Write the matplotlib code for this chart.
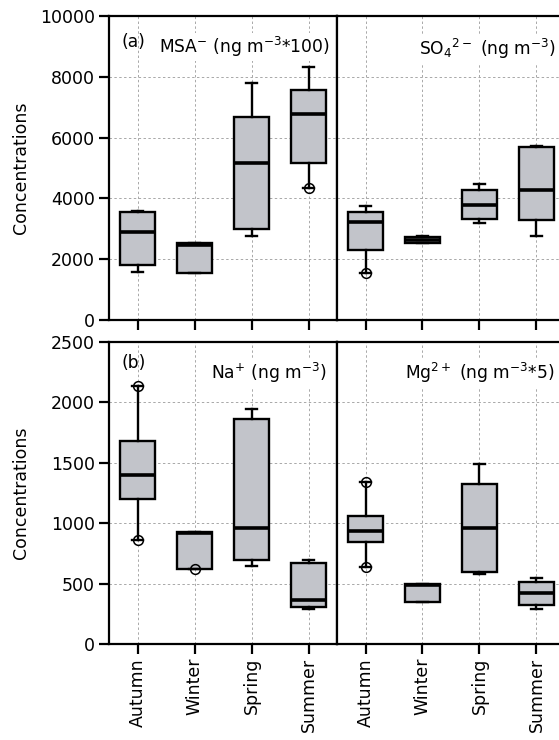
import matplotlib
matplotlib.use('Agg')
import matplotlib.pyplot as plt

seasons = ['Autumn', 'Winter', 'Spring', 'Summer']

# (a) MSA- (ng m-3 * 100)
msa_whislo = [1580, 1540, 2750, 4330]
msa_q1 = [1800, 1560, 2990, 5150]
msa_med = [2890, 2470, 5180, 6770]
msa_q3 = [3550, 2520, 6670, 7560]
msa_whishi = [3600, 2530, 7800, 8310]
msa_fliers = [[], [], [], [4330]]

# SO4 2- (ng m-3)
so4_whislo = [1560, 2540, 3190, 2770]
so4_q1 = [2300, 2540, 3320, 3280]
so4_med = [3230, 2630, 3780, 4270]
so4_q3 = [3540, 2720, 4270, 5680]
so4_whishi = [3740, 2750, 4490, 5710]
so4_fliers = [[1560], [], [], []]

# (b) Na+ (ng m-3)
na_whislo = [863, 623, 642, 292]
na_q1 = [1202, 623, 697, 303]
na_med = [1400, 915, 962, 367]
na_q3 = [1681, 929, 1866, 670]
na_whishi = [2136, 929, 1943, 697]
na_fliers = [[2136, 863], [623], [], []]

# Mg2+ (ng m-3 * 5)
mg_whislo = [640, 345, 579, 287]
mg_q1 = [846, 345, 595, 322]
mg_med = [937, 491, 962, 422]
mg_q3 = [1058, 499, 1326, 513]
mg_whishi = [1340, 499, 1491, 549]
mg_fliers = [[1340, 640], [], [], []]

W, H = 559, 740
fig = plt.figure(figsize=(W / 100, H / 100), dpi=100)

def px(x0, y_top, x1, y_bot):
    return [x0 / W, 1 - y_bot / H, (x1 - x0) / W, (y_bot - y_top) / H]

ax_a = fig.add_axes(px(109, 16, 337, 320))
ax_s = fig.add_axes(px(337, 16, 565, 320))
ax_b = fig.add_axes(px(109, 342, 337, 644))
ax_m = fig.add_axes(px(337, 342, 565, 644))

FS = 12.5

def draw(ax, wl, q1, med, q3, wh, fl, ylim, yticks, left, bottom):
    stats = []
    for i in range(len(seasons)):
        stats.append(dict(whislo=wl[i], q1=q1[i], med=med[i], q3=q3[i],
                          whishi=wh[i], fliers=fl[i], label=seasons[i]))
    ax.bxp(stats, positions=range(1, len(seasons) + 1), widths=0.6,
           capwidths=0.2, patch_artist=True,
           boxprops=dict(facecolor='#c2c4ca', edgecolor='black', linewidth=1.7),
           medianprops=dict(color='black', linewidth=2.6),
           whiskerprops=dict(color='black', linewidth=1.7),
           capprops=dict(color='black', linewidth=1.7),
           flierprops=dict(marker='o', markerfacecolor='none',
                           markeredgecolor='black', markersize=7,
                           markeredgewidth=1.1))
    ax.set_xlim(0.5, 4.5)
    ax.set_ylim(*ylim)
    ax.set_yticks(yticks)
    ax.set_axisbelow(True)
    ax.grid(True, linestyle=(0, (2.5, 2.5)), color='#a8a8a8', linewidth=0.7)
    for s in ax.spines.values():
        s.set_linewidth(1.6)
    ax.tick_params(direction='out', width=1.6, length=7, labelsize=FS, pad=3)
    if left:
        ax.set_ylabel('Concentrations', fontsize=FS)
        ax.yaxis.set_label_coords(-0.345, 0.5)
    else:
        ax.tick_params(axis='y', length=0, labelleft=False)
    ax.set_xticks(range(1, len(seasons) + 1))
    if bottom:
        ax.set_xticklabels(seasons, rotation=90, fontsize=FS)
    else:
        ax.set_xticklabels([])

draw(ax_a, msa_whislo, msa_q1, msa_med, msa_q3, msa_whishi, msa_fliers,
     (0, 10000), range(0, 10001, 2000), True, False)
draw(ax_s, so4_whislo, so4_q1, so4_med, so4_q3, so4_whishi, so4_fliers,
     (0, 10000), range(0, 10001, 2000), False, False)
draw(ax_b, na_whislo, na_q1, na_med, na_q3, na_whishi, na_fliers,
     (0, 2500), range(0, 2501, 500), True, True)
draw(ax_m, mg_whislo, mg_q1, mg_med, mg_q3, mg_whishi, mg_fliers,
     (0, 2500), range(0, 2501, 500), False, True)

bb = dict(facecolor='white', edgecolor='none', pad=1.5)
fs = 12.3
ax_a.text(0.057, 0.915, '(a)', transform=ax_a.transAxes, fontsize=fs,
          ha='left', va='center')
ax_a.text(0.595, 0.897, r'MSA$^{-}$ (ng m$^{-3}$*100)', transform=ax_a.transAxes,
          fontsize=fs, ha='center', va='center', bbox=bb)
ax_s.text(0.66, 0.89, r'SO$_4$$^{2-}$ (ng m$^{-3}$)', transform=ax_s.transAxes,
          fontsize=fs, ha='center', va='center', bbox=bb)
ax_b.text(0.057, 0.93, '(b)', transform=ax_b.transAxes, fontsize=fs,
          ha='left', va='center')
ax_b.text(0.70, 0.897, r'Na$^{+}$ (ng m$^{-3}$)', transform=ax_b.transAxes,
          fontsize=fs, ha='center', va='center', bbox=bb)
ax_m.text(0.625, 0.897, r'Mg$^{2+}$ (ng m$^{-3}$*5)', transform=ax_m.transAxes,
          fontsize=fs, ha='center', va='center', bbox=bb)

fig.savefig('out.png', dpi=100)
